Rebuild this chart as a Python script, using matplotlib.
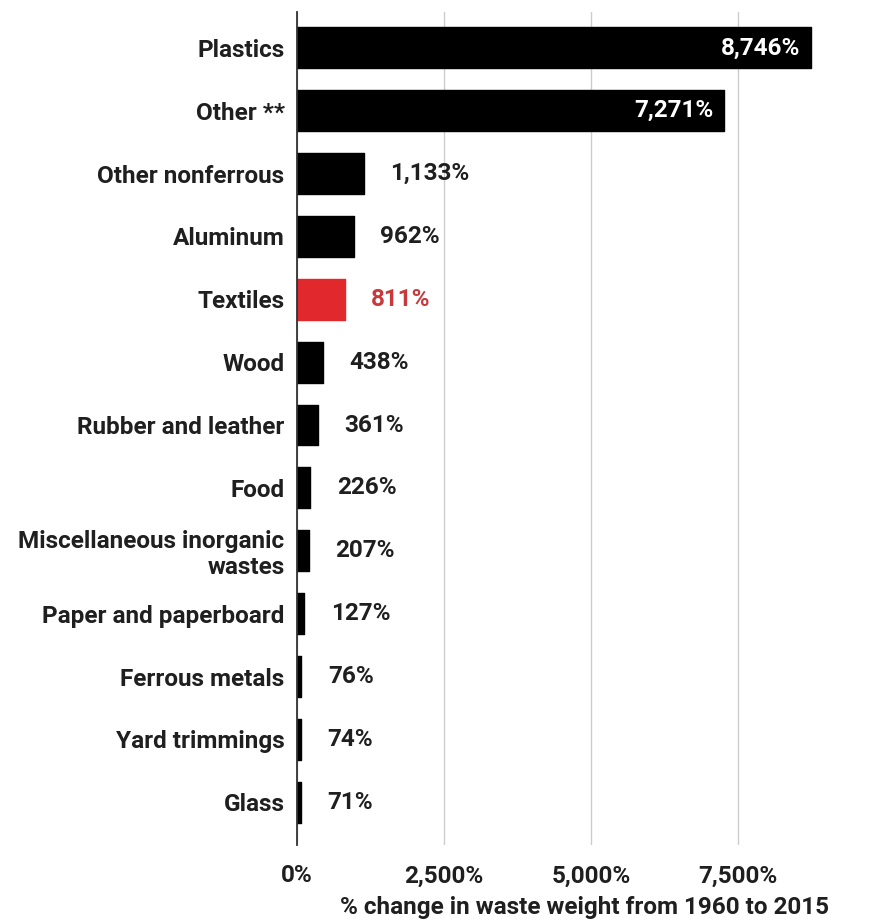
import matplotlib
matplotlib.use("Agg")
import matplotlib.pyplot as plt
from matplotlib.ticker import FuncFormatter

categories = ["Plastics", "Other **", "Other nonferrous", "Aluminum", "Textiles", "Wood",
              "Rubber and leather", "Food", "Miscellaneous inorganic\nwastes",
              "Paper and paperboard", "Ferrous metals", "Yard trimmings", "Glass"]
values = [8746, 7271, 1133, 962, 811, 438, 361, 226, 207, 127, 76, 74, 71]
highlight = "Textiles"
xticks = [0, 2500, 5000, 7500]
xlabel = "% change in waste weight from 1960 to 2015"

plt.rcParams['font.family'] = ['Roboto', 'DejaVu Sans']
plt.rcParams['font.weight'] = 'bold'

TEXT = "#1f1f1f"
RED = "#e0282d"
RED_TXT = "#c8393c"
FS = 17.5

fig = plt.figure(figsize=(8.72, 9.21), dpi=100)
ax = fig.add_axes([297/872, 1 - 845/921, 1 - 297/872, (845 - 12)/921])

ypos = list(range(len(categories)))
colors = [RED if c == highlight else "black" for c in categories]
bars = ax.barh(ypos, values, height=0.65, color=colors, edgecolor=colors,
               linewidth=1, joinstyle="round", zorder=3)

for y, v, c in zip(ypos, values, categories):
    lab = f"{v:,}%"
    if v > 5000:
        ax.annotate(lab, (v, y), xytext=(-8, 0), textcoords="offset points",
                    ha="right", va="center", color="white", fontsize=FS,
                    fontweight="bold", zorder=4)
    else:
        ax.annotate(lab, (v, y), xytext=(19, 0), textcoords="offset points",
                    ha="left", va="center", color=RED_TXT if c == highlight else TEXT,
                    fontsize=FS, fontweight="bold", zorder=4)

ax.set_yticks(ypos)
ax.set_yticklabels(categories, fontsize=FS, fontweight="bold", color=TEXT, ha="right",
                   multialignment="right", linespacing=1.15)
ax.set_ylim(12.68, -0.57)
ax.set_xlim(0, 9780)
ax.set_xticks(xticks)
ax.xaxis.set_major_formatter(FuncFormatter(lambda x, p: f"{int(x):,}%"))
ax.tick_params(axis="x", length=0, pad=14, labelsize=FS, labelcolor=TEXT)
ax.tick_params(axis="y", length=0, pad=9)
for lab in ax.get_xticklabels():
    lab.set_fontweight("bold")
ax.set_xlabel(xlabel, fontsize=FS, fontweight="bold", color=TEXT, labelpad=6)

ax.grid(axis="x", color="#cccccc", linewidth=1, zorder=0)
ax.grid(axis="y", visible=False)
for s in ["top", "right", "bottom"]:
    ax.spines[s].set_visible(False)
ax.spines["left"].set_color("#333333")
ax.spines["left"].set_linewidth(1.3)
ax.spines["left"].set_zorder(5)

fig.savefig("out.png", dpi=100)
